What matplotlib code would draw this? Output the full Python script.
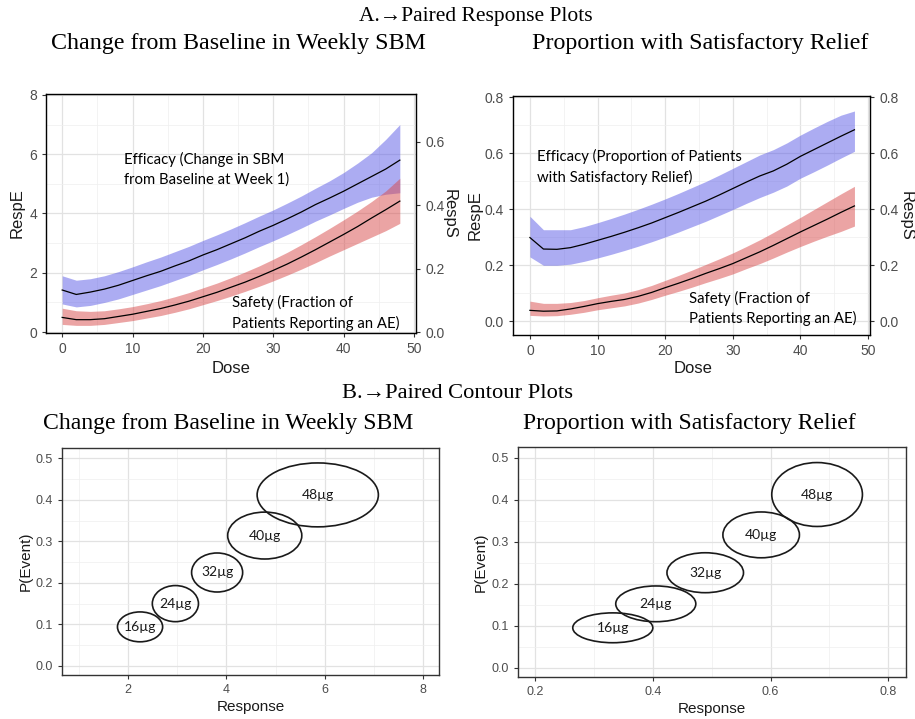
import numpy as np
import matplotlib.pyplot as plt
from matplotlib.patches import Ellipse
from matplotlib.ticker import MultipleLocator

# ---- data ----
dose = [0, 2, 4, 6, 8, 10, 12, 14, 16, 18, 20, 22, 24, 26, 28, 30, 32, 34, 36, 38, 40, 42, 44, 46, 48]

# panel A left: change from baseline in weekly SBM (RespE) and AE fraction (RespS)
sbm_eff_mid = [1.42, 1.27, 1.35, 1.45, 1.58, 1.74, 1.90, 2.05, 2.23, 2.40, 2.60, 2.78, 2.98, 3.18, 3.40,
               3.60, 3.82, 4.05, 4.30, 4.52, 4.75, 5.00, 5.25, 5.50, 5.80]
sbm_eff_lo = [0.95, 0.85, 0.90, 1.00, 1.12, 1.27, 1.42, 1.57, 1.74, 1.91, 2.10, 2.28, 2.47, 2.67, 2.88,
              3.08, 3.29, 3.51, 3.74, 3.95, 4.17, 4.38, 4.55, 4.65, 4.70]
sbm_eff_hi = [1.90, 1.75, 1.80, 1.90, 2.04, 2.20, 2.37, 2.53, 2.71, 2.89, 3.09, 3.28, 3.48, 3.69, 3.91,
              4.12, 4.35, 4.59, 4.85, 5.10, 5.38, 5.70, 6.05, 6.50, 7.00]
sbm_saf_mid = [0.047, 0.040, 0.040, 0.043, 0.050, 0.057, 0.066, 0.075, 0.086, 0.098, 0.112, 0.126, 0.142,
               0.158, 0.176, 0.195, 0.215, 0.237, 0.260, 0.284, 0.308, 0.333, 0.360, 0.386, 0.413]
sbm_saf_lo = [0.025, 0.022, 0.022, 0.025, 0.031, 0.037, 0.045, 0.053, 0.063, 0.074, 0.087, 0.100, 0.114,
              0.129, 0.145, 0.162, 0.180, 0.199, 0.219, 0.240, 0.260, 0.280, 0.300, 0.320, 0.343]
sbm_saf_hi = [0.076, 0.068, 0.066, 0.068, 0.074, 0.081, 0.090, 0.100, 0.112, 0.125, 0.140, 0.155, 0.172,
              0.190, 0.209, 0.230, 0.252, 0.276, 0.301, 0.327, 0.354, 0.382, 0.412, 0.445, 0.485]

# panel A right: proportion with satisfactory relief
rel_eff_mid = [0.298, 0.257, 0.256, 0.262, 0.274, 0.288, 0.302, 0.317, 0.333, 0.350, 0.369, 0.388, 0.408,
               0.428, 0.450, 0.473, 0.496, 0.518, 0.536, 0.560, 0.588, 0.612, 0.636, 0.660, 0.683]
rel_eff_lo = [0.229, 0.199, 0.199, 0.203, 0.213, 0.225, 0.238, 0.252, 0.267, 0.283, 0.300, 0.318, 0.337,
              0.356, 0.377, 0.398, 0.420, 0.441, 0.460, 0.482, 0.510, 0.533, 0.557, 0.582, 0.606]
rel_eff_hi = [0.374, 0.326, 0.326, 0.326, 0.337, 0.351, 0.366, 0.382, 0.399, 0.417, 0.436, 0.456, 0.477,
              0.498, 0.521, 0.545, 0.569, 0.593, 0.612, 0.636, 0.664, 0.689, 0.713, 0.735, 0.750]
rel_saf_mid = [0.038, 0.035, 0.036, 0.043, 0.052, 0.062, 0.070, 0.077, 0.088, 0.102, 0.119, 0.135, 0.152,
               0.170, 0.187, 0.205, 0.226, 0.247, 0.270, 0.294, 0.318, 0.341, 0.364, 0.388, 0.411]
rel_saf_lo = [0.020, 0.018, 0.019, 0.024, 0.031, 0.040, 0.047, 0.054, 0.064, 0.077, 0.092, 0.106, 0.121,
              0.137, 0.152, 0.168, 0.187, 0.205, 0.225, 0.246, 0.266, 0.285, 0.303, 0.320, 0.339]
rel_saf_hi = [0.071, 0.063, 0.063, 0.066, 0.073, 0.083, 0.092, 0.100, 0.112, 0.127, 0.145, 0.163, 0.182,
              0.202, 0.222, 0.243, 0.266, 0.290, 0.316, 0.343, 0.370, 0.398, 0.426, 0.454, 0.481]

# panel B: contour ellipses per dose level
doses_ug = ['16µg', '24µg', '32µg', '40µg', '48µg']
sbm_cx = [2.24, 2.96, 3.81, 4.78, 5.86]
sbm_cy = [0.094, 0.150, 0.225, 0.314, 0.412]
sbm_w = [0.92, 0.94, 1.04, 1.51, 2.47]
sbm_h = [0.072, 0.087, 0.094, 0.113, 0.154]
rel_cx = [0.332, 0.405, 0.489, 0.584, 0.679]
rel_cy = [0.095, 0.152, 0.226, 0.316, 0.412]
rel_w = [0.136, 0.136, 0.130, 0.130, 0.154]
rel_h = [0.071, 0.085, 0.095, 0.109, 0.152]

W, H = 915, 719
BLUE = '#5a5ae6'
RED = '#d84a4a'
SERIF = ['Liberation Serif', 'DejaVu Serif']
SANS = ['Liberation Sans', 'DejaVu Sans']
NOTE = ['Lato', 'DejaVu Sans']

plt.rcParams['font.family'] = SANS
fig = plt.figure(figsize=(W / 100, H / 100), dpi=100)


def px_axes(l, t, r, b):
    return fig.add_axes([l / W, 1 - b / H, (r - l) / W, (b - t) / H])


def style(ax, size):
    ax.set_facecolor('white')
    for s in ax.spines.values():
        s.set_color('#333333')
        s.set_linewidth(1.0)
    ax.grid(True, which='major', color='#e2e2e2', lw=0.9)
    ax.grid(True, which='minor', color='#efefef', lw=0.5)
    ax.set_axisbelow(True)
    ax.tick_params(which='major', length=3, color='#333333', labelcolor='#4d4d4d', labelsize=size)
    ax.tick_params(which='minor', length=0)


def style_right(axr, size):
    axr.grid(False)
    axr.tick_params(which='major', length=3, color='#333333', labelcolor='#4d4d4d', labelsize=size)
    axr.tick_params(which='minor', length=0)


# ---- A left ----
ax1 = px_axes(46, 94, 416, 333)
style(ax1, 10)
ax1.fill_between(dose, sbm_eff_lo, sbm_eff_hi, color=BLUE, alpha=0.5, lw=0)
ax1.plot(dose, sbm_eff_mid, color='black', lw=0.9)
ax1.set_xlim(-2.3, 50.3)
ax1.set_ylim(-0.03, 8.03)
ax1.xaxis.set_major_locator(MultipleLocator(10))
ax1.xaxis.set_minor_locator(MultipleLocator(5))
ax1.yaxis.set_major_locator(MultipleLocator(2))
ax1.yaxis.set_minor_locator(MultipleLocator(1))
ax1.set_xlabel('Dose', fontsize=12, color='#1a1a1a')
ax1.xaxis.set_label_coords(0.5, -0.118)
ax1.set_ylabel('RespE', fontsize=12, color='#1a1a1a')
ax1.yaxis.set_label_coords(-0.057, 0.5)
ax1.text(8.8, 5.5, 'Efficacy (Change in SBM\nfrom Baseline at Week 1)', family=NOTE, fontsize=10.7,
         ha='left', va='center', linespacing=1.45, zorder=5)
ax1.text(24.1, 0.64, 'Safety (Fraction of\nPatients Reporting an AE)', family=NOTE, fontsize=10.7,
         ha='left', va='center', linespacing=1.45, zorder=5)

ax1r = ax1.twinx()
ax1r.fill_between(dose, sbm_saf_lo, sbm_saf_hi, color=RED, alpha=0.5, lw=0)
ax1r.plot(dose, sbm_saf_mid, color='black', lw=0.9)
ax1r.set_ylim(-0.002, 0.75)
ax1r.yaxis.set_major_locator(MultipleLocator(0.2))
style_right(ax1r, 10)
ax1r.set_ylabel('RespS', fontsize=12, color='#1a1a1a', rotation=270, va='center')
ax1r.yaxis.set_label_coords(1.09, 0.5)

# ---- A right ----
ax2 = px_axes(513, 96, 870, 335)
style(ax2, 10)
ax2.fill_between(dose, rel_eff_lo, rel_eff_hi, color=BLUE, alpha=0.5, lw=0)
ax2.plot(dose, rel_eff_mid, color='black', lw=0.9)
ax2.fill_between(dose, rel_saf_lo, rel_saf_hi, color=RED, alpha=0.5, lw=0)
ax2.plot(dose, rel_saf_mid, color='black', lw=0.9)
ax2.set_xlim(-2.5, 50.3)
ax2.set_ylim(-0.05, 0.8036)
ax2.xaxis.set_major_locator(MultipleLocator(10))
ax2.xaxis.set_minor_locator(MultipleLocator(5))
ax2.yaxis.set_major_locator(MultipleLocator(0.2))
ax2.yaxis.set_minor_locator(MultipleLocator(0.1))
ax2.set_xlabel('Dose', fontsize=12, color='#1a1a1a')
ax2.xaxis.set_label_coords(0.504, -0.11)
ax2.set_ylabel('RespE', fontsize=12, color='#1a1a1a')
ax2.yaxis.set_label_coords(-0.084, 0.5)
ax2.text(1.0, 0.55, 'Efficacy (Proportion of Patients\nwith Satisfactory Relief)', family=NOTE,
         fontsize=10.7, ha='left', va='center', linespacing=1.45, zorder=5)
ax2.text(23.5, 0.045, 'Safety (Fraction of\nPatients Reporting an AE)', family=NOTE, fontsize=10.7,
         ha='left', va='center', linespacing=1.45, zorder=5)

ax2r = ax2.twinx()
ax2r.set_ylim(-0.05, 0.8036)
ax2r.yaxis.set_major_locator(MultipleLocator(0.2))
style_right(ax2r, 10)
ax2r.set_ylabel('RespS', fontsize=12, color='#1a1a1a', rotation=270, va='center')
ax2r.yaxis.set_label_coords(1.1, 0.5)


# ---- B: contour plots ----
def contour_panel(ax, cx, cy, w, h, xlim, xmaj):
    style(ax, 9)
    for x, y, ew, eh, lab in zip(cx, cy, w, h, doses_ug):
        ax.add_patch(Ellipse((x, y), ew, eh, fill=False, edgecolor='#1a1a1a', lw=1.2))
        ax.text(x, y, lab, family=NOTE, fontsize=10, ha='center', va='center', color='#1a1a1a')
    ax.set_xlim(*xlim)
    ax.set_ylim(-0.022, 0.525)
    ax.xaxis.set_major_locator(MultipleLocator(xmaj))
    ax.xaxis.set_minor_locator(MultipleLocator(xmaj / 2))
    ax.yaxis.set_major_locator(MultipleLocator(0.1))
    ax.yaxis.set_minor_locator(MultipleLocator(0.05))
    ax.set_xlabel('Response', fontsize=11, color='#1a1a1a')
    ax.xaxis.set_label_coords(0.5, -0.11)
    ax.set_ylabel('P(Event)', fontsize=11, color='#1a1a1a')
    ax.yaxis.set_label_coords(-0.077, 0.5)


ax3 = px_axes(62, 448, 439, 675)
contour_panel(ax3, sbm_cx, sbm_cy, sbm_w, sbm_h, (0.65, 8.33), 2)
ax4 = px_axes(518, 447, 906, 677)
contour_panel(ax4, rel_cx, rel_cy, rel_w, rel_h, (0.171, 0.83), 0.2)

# ---- headings ----
fig.text(476 / W, 1 - 16 / H, 'A.\u2192Paired Response Plots', family=SERIF, fontsize=15.5,
         ha='center', va='center')
fig.text(238 / W, 1 - 44 / H, 'Change from Baseline in Weekly SBM', family=SERIF, fontsize=17.3,
         ha='center', va='center')
fig.text(700 / W, 1 - 44 / H, 'Proportion with Satisfactory Relief', family=SERIF, fontsize=17.3,
         ha='center', va='center')
fig.text(458 / W, 1 - 394 / H, 'B.\u2192Paired Contour Plots', family=SERIF, fontsize=16.2,
         ha='center', va='center')
fig.text(228 / W, 1 - 423 / H, 'Change from Baseline in Weekly SBM', family=SERIF, fontsize=17.1,
         ha='center', va='center')
fig.text(689 / W, 1 - 423 / H, 'Proportion with Satisfactory Relief', family=SERIF, fontsize=17.1,
         ha='center', va='center')

fig.savefig('out.png', dpi=100)
